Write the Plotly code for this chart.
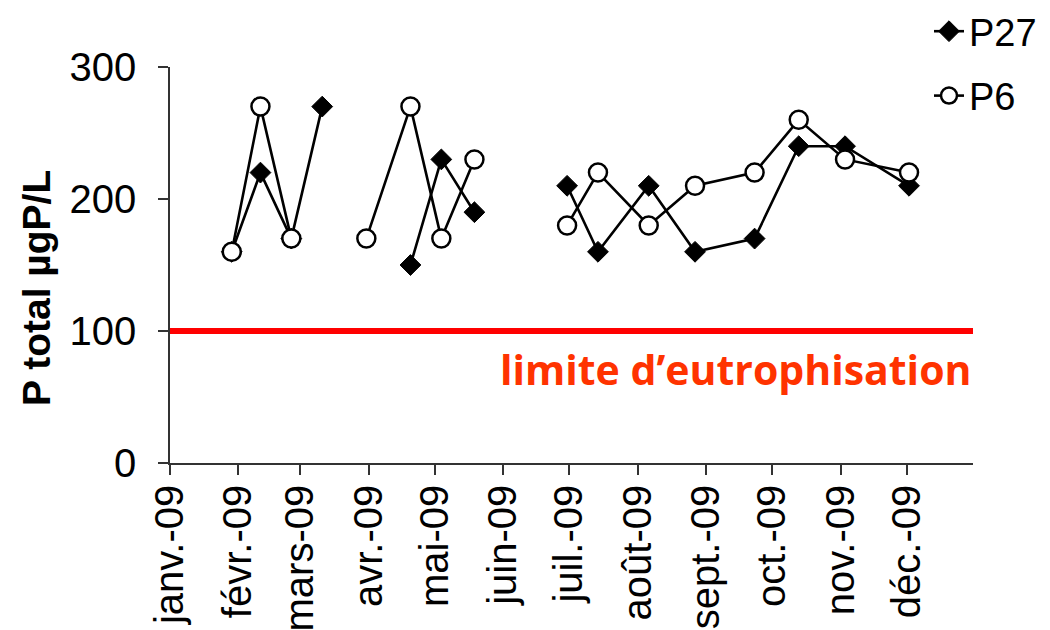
import plotly.graph_objects as go

# Sampling dates (None values = no sample for that station)
dates = ["2009-01-29", "2009-02-11", "2009-02-25", "2009-03-11", "2009-03-31",
         "2009-04-20", "2009-05-04", "2009-05-19", "2009-06-10", "2009-06-30",
         "2009-07-14", "2009-08-06", "2009-08-27", "2009-09-23", "2009-10-13",
         "2009-11-03", "2009-12-02"]
p27 = [160, 220, 170, 270, None, 150, 230, 190, None, 210,
       160, 210, 160, 170, 240, 240, 210]
p6 = [160, 270, 170, None, 170, 270, 170, 230, None, 180,
      220, 180, 210, 220, 260, 230, 220]

month_ticks = ["2009-01-01", "2009-02-01", "2009-03-01", "2009-04-01", "2009-05-01",
               "2009-06-01", "2009-07-01", "2009-08-01", "2009-09-01", "2009-10-01",
               "2009-11-01", "2009-12-01"]
month_labels = ["janv.-09", "févr.-09", "mars-09", "avr.-09", "mai-09", "juin-09",
                "juil.-09", "août-09", "sept.-09", "oct.-09", "nov.-09", "déc.-09"]
y_ticks = [0, 100, 200, 300]
limit_value = 100

FONT = "Liberation Sans, Arial, sans-serif"
W, H = 1050, 630

fig = go.Figure()
fig.add_trace(go.Scatter(
    x=dates, y=p27, name="P27", mode="lines+markers", connectgaps=False,
    legendgroup="a",
    line=dict(color="black", width=2.6),
    marker=dict(symbol="diamond", size=16, color="black",
                line=dict(color="black", width=1)),
))
fig.add_trace(go.Scatter(
    x=dates, y=p6, name="P6", mode="lines+markers", connectgaps=False,
    legendgroup="b",
    line=dict(color="black", width=2.6),
    marker=dict(symbol="circle", size=18, color="white",
                line=dict(color="black", width=2.5)),
))

fig.add_shape(type="line", xref="x domain", yref="y", x0=0, x1=1,
              y0=limit_value, y1=limit_value,
              line=dict(color="#FF0000", width=6))

fig.add_annotation(text="limite d’eutrophisation", xref="x domain", yref="y",
                   x=1, y=71, xanchor="right", yanchor="middle", showarrow=False,
                   font=dict(family="Open Sans, sans-serif", size=41,
                             color="#FF3300", weight="bold"))

fig.add_annotation(text="<b>P total µgP/L</b>", xref="paper", yref="paper",
                   x=37 / W, y=1 - 288 / H, xanchor="center", yanchor="middle",
                   textangle=-90, showarrow=False,
                   font=dict(family=FONT, size=39, color="black"))

fig.update_layout(
    width=W, height=H,
    margin=dict(l=0, r=0, t=0, b=0),
    plot_bgcolor="white", paper_bgcolor="white",
    font=dict(family=FONT, size=40, color="black"),
    showlegend=True,
    legend=dict(x=929 / W, y=1.0, xanchor="left", yanchor="top",
                font=dict(size=38, family=FONT), tracegroupgap=12,
                bgcolor="rgba(0,0,0,0)"),
    xaxis=dict(type="date", range=["2009-01-01", "2009-12-31"],
               domain=[170 / W, 973 / W],
               tickvals=month_ticks, ticktext=month_labels, tickangle=-90,
               ticks="outside", ticklen=10, tickwidth=1.5, tickcolor="#333",
               showline=True, linecolor="#333", linewidth=1.5,
               showgrid=False, zeroline=False, ticklabelstandoff=-6,
               automargin=False, tickfont=dict(size=40)),
    yaxis=dict(range=[0, 300], tickvals=y_ticks,
               domain=[1 - 463 / H, 1 - 67 / H],
               ticks="outside", ticklen=10, tickwidth=1.5, tickcolor="#333",
               showline=True, linecolor="#333", linewidth=1.5,
               showgrid=False, zeroline=False, ticklabelstandoff=14,
               automargin=False, tickfont=dict(size=40)),
)

fig.write_html("out.html", config={"displayModeBar": False},
               post_script="document.body.style.margin='0';")
